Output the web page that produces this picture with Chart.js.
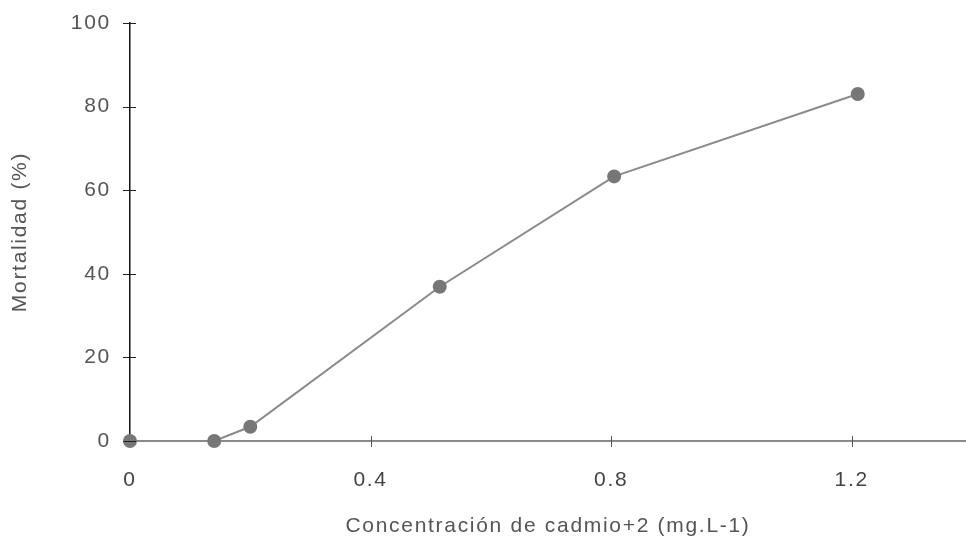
<!DOCTYPE html>
<html>
<head>
<meta charset="utf-8">
<script src="https://cdn.jsdelivr.net/npm/chart.js@4.4.0/dist/chart.umd.min.js"></script>
<style>
  html, body { margin: 0; padding: 0; background: #fff; }
  #wrap { width: 966px; height: 539px; }
</style>
</head>
<body>
<div id="wrap"><canvas id="myChart"></canvas></div>
<script>
// concentracion (mg/L) y mortalidad (%)
const concentracion = [0, 0.14, 0.2, 0.515, 0.805, 1.21];
const mortalidad = [0, 0, 3.4, 36.9, 63.3, 83];
const xTicks = [0, 0.4, 0.8, 1.2];
const yTicks = [0, 20, 40, 60, 80, 100];

const puntos = concentracion.map((c, i) => ({ x: c, y: mortalidad[i] }));
const espaciado = '1.7px';

// el texto del original es mas ancho, se le da algo de espaciado
const letras = {
    id: 'letras',
    beforeUpdate(chart) { chart.ctx.letterSpacing = espaciado; },
    beforeLayout(chart) { chart.ctx.letterSpacing = espaciado; },
    beforeDraw(chart) { chart.ctx.letterSpacing = espaciado; }
};

// marcas de los ejes que cruzan la linea
const tickMarks = {
    id: 'tickMarks',
    afterDraw(chart) {
        const ctx = chart.ctx;
        const xs = chart.scales.x;
        const ys = chart.scales.y;
        ctx.save();
        ctx.strokeStyle = '#222';
        ctx.lineWidth = 1;
        yTicks.forEach(v => {
            let y = Math.round(ys.getPixelForValue(v)) + 0.5;
            ctx.beginPath();
            ctx.moveTo(xs.left - 7, y);
            ctx.lineTo(xs.left + 6, y);
            ctx.stroke();
        });
        ctx.strokeStyle = '#555';
        xTicks.slice(1).forEach(v => {
            let x = Math.round(xs.getPixelForValue(v)) + 0.5;
            ctx.beginPath();
            ctx.moveTo(x, ys.bottom - 5);
            ctx.lineTo(x, ys.bottom + 6);
            ctx.stroke();
        });
        ctx.restore();
    }
};

const config = {
    type: 'scatter',
    data: {
        datasets: [{
            data: puntos,
            showLine: true,
            borderColor: '#8a8a8a',
            borderWidth: 2,
            backgroundColor: '#777',
            pointBackgroundColor: '#777',
            pointBorderColor: '#777',
            pointRadius: 6,
            pointHoverRadius: 6,
            clip: false
        }]
    },
    options: {
        responsive: true,
        maintainAspectRatio: false,
        animation: false,
        layout: { autoPadding: false, padding: { top: 23, right: 0, left: 0, bottom: 0 } },
        plugins: { legend: { display: false }, tooltip: { enabled: false } },
        scales: {
            x: {
                type: 'linear',
                min: 0,
                max: 1.39,
                afterBuildTicks: (scale) => { scale.ticks = xTicks.map(v => ({ value: v })); },
                afterFit: (scale) => {
                    scale.height = 98;
                    scale.paddingLeft = 0;
                    scale.paddingRight = 0;
                },
                grid: { display: false, drawTicks: false },
                border: { color: '#8a8a8a', width: 2 },
                ticks: {
                    padding: 27,
                    color: '#444',
                    font: { family: 'Liberation Sans', size: 21 },
                    maxRotation: 0,
                    callback: (v) => String(v)
                },
                title: {
                    display: true,
                    text: 'Concentración de cadmio+2 (mg.L-1)',
                    color: '#555',
                    font: { family: 'Liberation Sans', size: 21 },
                    padding: { top: 14, bottom: 0 }
                }
            },
            y: {
                min: 0,
                max: 100,
                afterBuildTicks: (scale) => { scale.ticks = yTicks.map(v => ({ value: v })); },
                afterFit: (scale) => {
                    scale.width = 130;
                    scale.paddingTop = 0;
                    scale.paddingBottom = 0;
                },
                grid: { display: false, drawTicks: false },
                border: { color: '#111', width: 1.5 },
                ticks: {
                    padding: 19,
                    color: '#555',
                    font: { family: 'Liberation Sans', size: 21 }
                },
                title: {
                    display: true,
                    text: 'Mortalidad (%)',
                    color: '#555',
                    font: { family: 'Liberation Sans', size: 21 },
                    padding: { top: 8, bottom: 0 }
                }
            }
        }
    },
    plugins: [letras, tickMarks]
};

let myChart = document.querySelector('#myChart');
new Chart(myChart, config);
</script>
</body>
</html>
